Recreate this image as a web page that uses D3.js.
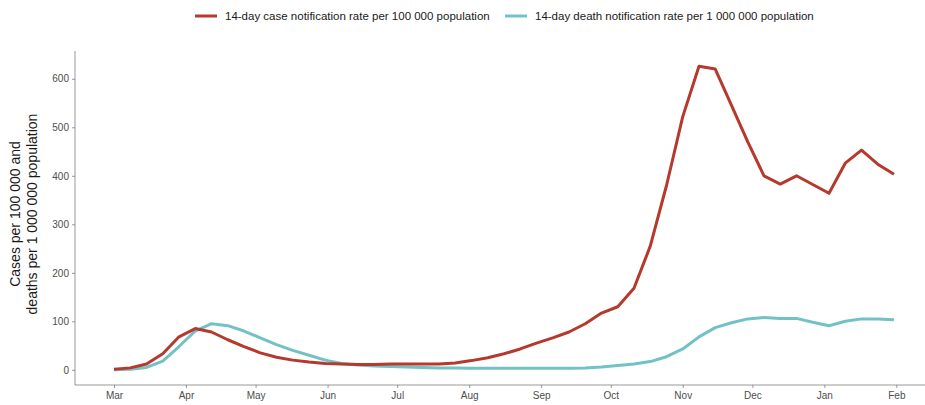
<!DOCTYPE html>
<html>
<head>
<meta charset="utf-8">
<script src="https://cdn.jsdelivr.net/npm/d3@7"></script>
<style>
  body { margin: 0; background: #fff; }
  svg { display: block; font-family: "Liberation Sans", Arial, sans-serif; }
</style>
</head>
<body>
<div id="chart"></div>
<script>
// Weekly points, week ending Sunday, 1 Mar 2020 .. 31 Jan 2021
const startDate = new Date(2020, 2, 1);
const weekCount = 49;

const caseRate = [
  1, 4, 12, 33, 68, 85, 78, 62, 48, 35,
  26, 20, 16, 13, 12, 11, 11, 12, 12, 12,
  12, 14, 19, 25, 33, 43, 55, 66, 78, 95,
  117, 130, 168, 255, 380, 522, 626, 620, 545, 470,
  400, 383, 400, 382, 364, 426, 453, 424, 403
];

const deathRate = [
  0, 1, 5, 18, 48, 80, 95, 91, 80, 66,
  52, 40, 30, 20, 13, 10, 8, 7, 6, 5,
  4, 4, 3, 3, 3, 3, 3, 3, 3, 4,
  6, 9, 12, 17, 27, 43, 68, 87, 97, 105,
  108, 106, 106, 98, 91, 100, 105, 105, 103
];

const yTicks = [0, 100, 200, 300, 400, 500, 600];
const monthLabels = ["Mar", "Apr", "May", "Jun", "Jul", "Aug", "Sep", "Oct", "Nov", "Dec", "Jan", "Feb"];

const seriesNames = [
  "14-day case notification rate per 100 000 population",
  "14-day death notification rate per 1 000 000 population"
];

// Colours
const caseColor = "#b5392c";
const deathColor = "#72c1c6";
const axisColor = "#555555";
const tickTextColor = "#4d4d4d";

const width = 925;
const height = 405;

const dates = d3.range(weekCount).map(i => d3.timeDay.offset(startDate, i * 7));
const monthTicks = monthLabels.map((m, i) => new Date(2020, 2 + i, 1));

const svg = d3.select("#chart")
  .append("svg")
  .attr("width", width)
  .attr("height", height);

// ggplot-like 5% expansion on both axes
const xPad = (dates[dates.length - 1] - dates[0]) * 0.05;
const xScale = d3.scaleTime()
  .domain([new Date(+dates[0] - xPad), new Date(+dates[dates.length - 1] + xPad)])
  .range([75, 933]);

const yMax = d3.max(caseRate);
const yScale = d3.scaleLinear()
  .domain([-yMax * 0.05, yMax * 1.05])
  .range([385, 51]);

// Y axis
const yAxis = svg.append("g")
  .attr("transform", "translate(75,0)")
  .attr("font-family", null)
  .call(d3.axisLeft(yScale).tickValues(yTicks).tickSize(3).tickPadding(3));
yAxis.attr("font-family", null);
yAxis.select(".domain").attr("stroke", axisColor).attr("stroke-width", 0.6)
  .attr("d", `M0,${yScale.range()[0]}V${yScale.range()[1]}`);
yAxis.selectAll(".tick line").attr("stroke", axisColor).attr("stroke-width", 0.6);
yAxis.selectAll(".tick text")
  .attr("fill", tickTextColor)
  .attr("font-size", "10px");

// X axis
const xAxis = svg.append("g")
  .attr("transform", `translate(0,${yScale.range()[0]})`)
  .call(d3.axisBottom(xScale)
    .tickValues(monthTicks)
    .tickFormat((d, i) => monthLabels[i])
    .tickSize(3)
    .tickPadding(4));
xAxis.attr("font-family", null);
xAxis.select(".domain").attr("stroke", axisColor).attr("stroke-width", 0.6)
  .attr("d", `M${xScale.range()[0]},0H${xScale.range()[1]}`);
xAxis.selectAll(".tick line").attr("stroke", axisColor).attr("stroke-width", 0.6);
xAxis.selectAll(".tick text")
  .attr("fill", tickTextColor)
  .attr("font-size", "10px");

// Y axis title (two lines, rotated)
const yTitle = svg.append("text")
  .attr("transform", "translate(0,214) rotate(-90)")
  .attr("text-anchor", "middle")
  .attr("fill", "#1a1a1a")
  .attr("font-size", "14px");
yTitle.append("tspan").attr("x", 0).attr("y", 20).text("Cases per 100 000 and");
yTitle.append("tspan").attr("x", 0).attr("y", 37).text("deaths per 1 000 000 population");

// Lines
const line = d3.line()
  .x((d, i) => xScale(dates[i]))
  .y(d => yScale(d));

svg.append("path")
  .datum(deathRate)
  .attr("fill", "none")
  .attr("stroke", deathColor)
  .attr("stroke-width", 3)
  .attr("stroke-linejoin", "round")
  .attr("d", line);

svg.append("path")
  .datum(caseRate)
  .attr("fill", "none")
  .attr("stroke", caseColor)
  .attr("stroke-width", 3)
  .attr("stroke-linejoin", "round")
  .attr("d", line);

// Legend
const legendItems = [
  { name: seriesNames[0], color: caseColor, x: 195 },
  { name: seriesNames[1], color: deathColor, x: 505 }
];
const legend = svg.append("g");
legendItems.forEach(item => {
  legend.append("line")
    .attr("x1", item.x)
    .attr("x2", item.x + 22)
    .attr("y1", 16)
    .attr("y2", 16)
    .attr("stroke", item.color)
    .attr("stroke-width", 3);
  legend.append("text")
    .attr("x", item.x + 30)
    .attr("y", 16)
    .attr("dy", "0.35em")
    .attr("fill", "#1a1a1a")
    .attr("font-size", "11.5px")
    .text(item.name);
});
</script>
</body>
</html>
